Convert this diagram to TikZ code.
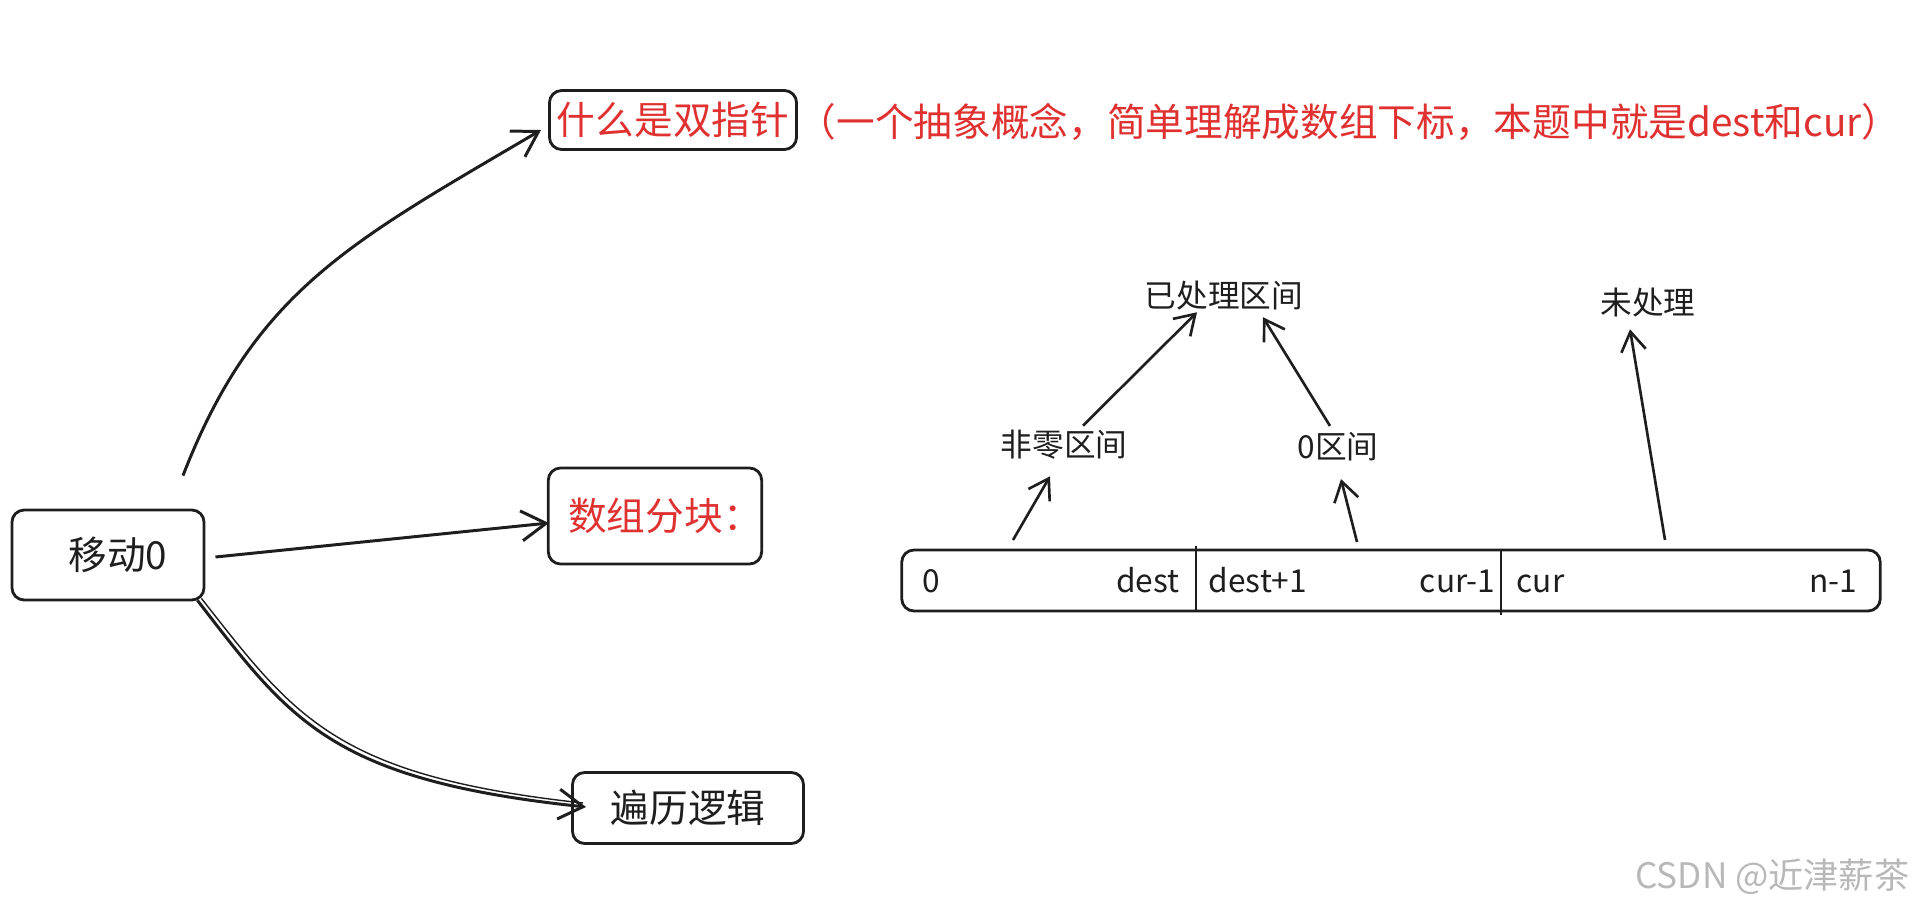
\documentclass[tikz,border=0pt]{standalone}
\usepackage{fontspec}
\setmainfont{Noto Sans CJK SC}
\usetikzlibrary{arrows.meta,calc}
\definecolor{hred}{HTML}{E03131}
\definecolor{ink}{HTML}{1E1E1E}

\begin{document}
\begin{tikzpicture}[x=0.01cm,y=-0.01cm,
  box/.style={draw=ink,line width=0.8pt,rounded corners=3.5pt,inner sep=0pt,font=\fontsize{11}{13}\selectfont},
  lbl/.style={inner sep=0pt,text=ink,font=\fontsize{9}{11}\selectfont},
  arr/.style={draw=ink,line width=0.75pt,-{Straight Barb[length=5.5pt,width=7pt]}},
  arrb/.style={draw=ink,line width=0.85pt,-{Straight Barb[length=7pt,width=8.5pt]}}]
\useasboundingbox (0,0) rectangle (1917,909);
% left part
\node[box,minimum width=1.92cm,minimum height=0.9cm,text=ink] (m0) at (108,555) {\hspace*{0.2cm}移动0};
\node[box,minimum width=2.47cm,minimum height=0.59cm,text=hred] (sz) at (673,120) {什么是双指针};
\node[anchor=west,inner sep=0pt,text=hred,font=\fontsize{11}{13}\selectfont] (szn) at (797,122) {（一个抽象概念，简单理解成数组下标，本题中就是dest和cur）};
\node[box,minimum width=2.09cm,minimum height=0.96cm,text=hred] (fk) at (655,516) {\hspace*{0.2cm}数组分块：};
\node[box,minimum width=2.31cm,minimum height=0.71cm,text=ink] (bl) at (688,808) {遍历逻辑};
\draw[arrb] ([shift={(75,-33)}]m0.north) .. controls (255,290) and (351,242) .. ([shift={(-7,10)}]sz.west);
\draw[arrb] ([shift={(10,2)}]m0.east) -- ([shift={(2,7)}]fk.west);
\draw[arrb] ([shift={(-8,-1)}]m0.south east) .. controls (290,720) and (330,780) .. ([shift={(15,-1)}]bl.west);
\draw[ink,line width=0.4pt] ([shift={(-4,-3)}]m0.south east) .. controls (294,716) and (334,776) .. ([shift={(12,-5)}]bl.west);
% array
\node[box,minimum width=9.78cm,minimum height=0.61cm] (bar) at (1391,580.5) {};
\draw[ink,line width=0.5pt] (1196,546) -- (1196,611);
\draw[ink,line width=0.5pt] (1501,550) -- (1501,615);
\node[lbl,anchor=base west] (i0) at (922,592) {0};
\node[lbl,anchor=base east] (idest) at (1180,592) {dest};
\node[lbl,anchor=base west] (idp) at (1208,592) {dest+1};
\node[lbl,anchor=base east] (icm) at (1496,592) {cur-1};
\node[lbl,anchor=base west] (icur) at (1516,592) {cur};
\node[lbl,anchor=base east] (in1) at (1858,592) {n-1};
% labels above
\node[lbl] (nz) at (1064,445) {非零区间};
\node[lbl] (zq) at (1338,447) {0区间};
\node[lbl] (ycl) at (1224,296) {已处理区间};
\node[lbl] (wcl) at (1648,303) {未处理};
\coordinate (p1) at (1013,540);
\coordinate (p2) at (1357,542);
\coordinate (p3) at (1665,540);
\draw[arr] (p1) -- ([shift={(-14,16)}]nz.south);
\draw[arr] (p2) -- ([shift={(3,17)}]zq.south);
\draw[arr] (p3) -- ([shift={(-18,11)}]wcl.south);
\draw[arr] ([shift={(19,-4)}]nz.north) -- ([shift={(-27,1)}]ycl.south);
\draw[arr] ([shift={(-8,-6)}]zq.north) -- ([shift={(39,6)}]ycl.south);
% watermark
\node[anchor=east,inner sep=0pt,text=black!28,font=\fontsize{10}{12}\selectfont] (wm) at (1910,877) {CSDN @近津薪茶};
\end{tikzpicture}
\end{document}
